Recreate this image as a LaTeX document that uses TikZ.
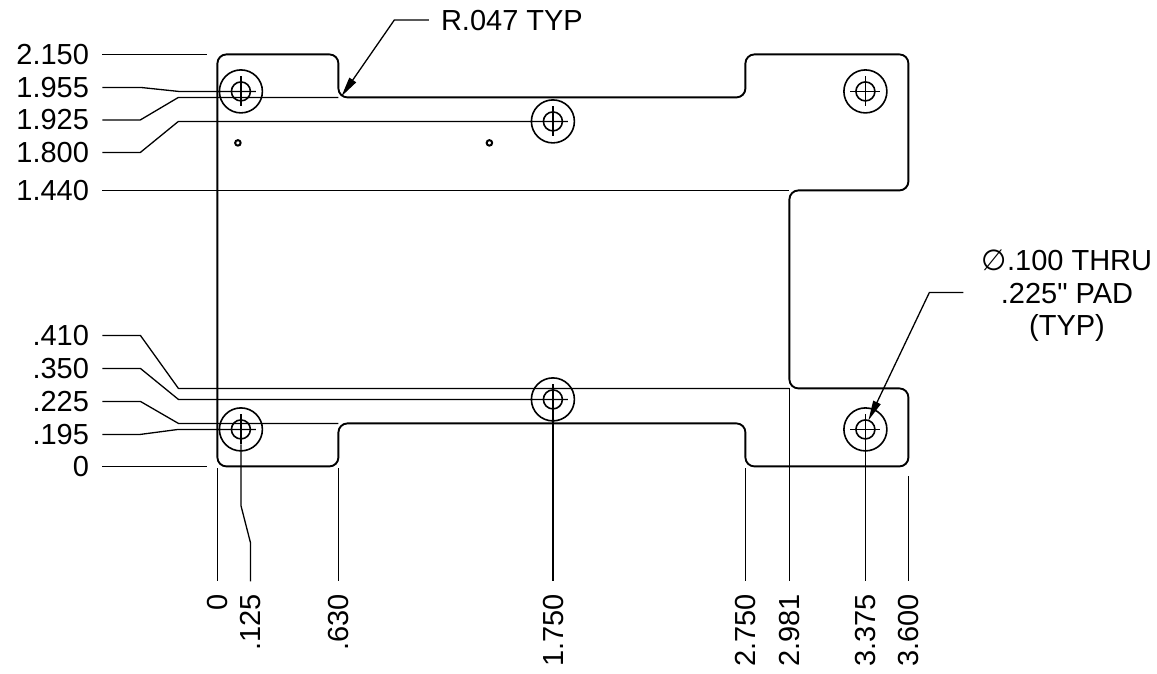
\documentclass[tikz,border=0pt]{standalone}
\usepackage{fontspec}
\newfontfamily\lblfont{Liberation Sans}
\newfontfamily\phifont{DejaVu Sans}
\usetikzlibrary{arrows.meta}
\tikzset{
  outline/.style={line width=1.9pt,line join=round},
  dimline/.style={line width=1.3pt,line join=round},
  holering/.style={line width=1.6pt},
  lbl/.style={font=\lblfont\fontsize{29}{33}\selectfont,inner sep=0pt,outer sep=0pt},
  leftlbl/.style={lbl,anchor=base east},
  botlbl/.style={lbl,anchor=base east,rotate=90},
  smallhole/.style={circle,draw,line width=2pt,minimum size=5.5pt,inner sep=0pt},
  leader/.style={line width=1.3pt,-{Triangle[length=20pt,width=8pt]}}
}
\newcommand{\padhole}[3]{%
  \node[circle,draw,holering,minimum size=43pt,inner sep=0pt] (#1) at (#2,#3) {};
  \node[circle,draw,holering,minimum size=19pt,inner sep=0pt] (#1i) at (#2,#3) {};
  \coordinate (#1w) at (#2-15,#3);
  \coordinate (#1e) at (#2+15,#3);
  \coordinate (#1n) at (#2,#3-15);
  \coordinate (#1s) at (#2,#3+15);
  \draw[dimline] (#1w) -- (#1e);
  \draw[dimline] (#1n) -- (#1s);
}
\begin{document}
\begin{tikzpicture}[x=1pt,y=-1pt]
\useasboundingbox (0,0) rectangle (1157,673);
\begin{scope}[shift={(0.4,0.4)}]
% outline
\draw[outline,rounded corners=9pt] (217,54) -- (338,54) -- (338,97) -- (745,97) -- (745,54) -- (908,54) -- (908,190) -- (789,190) -- (789,388) -- (908,388) -- (908,466) -- (745,466) -- (745,423) -- (338,423) -- (338,466) -- (217,466) -- cycle;
% holes
\padhole{ha}{240.5}{91}
\padhole{hb}{552.5}{121}
\padhole{hc}{865}{91}
\padhole{hd}{240.5}{429}
\padhole{he}{552.5}{399}
\padhole{hf}{865}{429}
\node[smallhole] (sa) at (237.5,142.5) {};
\node[smallhole] (sb) at (489,142.5) {};
% left extension lines
\coordinate (a1) at (102,54); \coordinate (a2) at (207,54);
\draw[dimline] (a1) -- (a2);
\coordinate (b1) at (102,87); \coordinate (b2) at (140,87); \coordinate (b3) at (178,91);
\draw[dimline] (b1) -- (b2) -- (b3) -- (hae);
\coordinate (c1) at (102,119.5); \coordinate (c2) at (140,119.5); \coordinate (c3) at (178,97); \coordinate (c4) at (338,97);
\draw[dimline] (c1) -- (c2) -- (c3) -- (c4);
\coordinate (d1) at (102,152); \coordinate (d2) at (140,152); \coordinate (d3) at (178,121);
\draw[dimline] (d1) -- (d2) -- (d3) -- (hbe);
\coordinate (e1) at (102,190); \coordinate (e2) at (789,190);
\draw[dimline] (e1) -- (e2);
\coordinate (f1) at (102,335); \coordinate (f2) at (140,335); \coordinate (f3) at (178,388); \coordinate (f4) at (789,388);
\draw[dimline] (f1) -- (f2) -- (f3) -- (f4);
\coordinate (g1) at (102,368); \coordinate (g2) at (140,368); \coordinate (g3) at (178,399);
\draw[dimline] (g1) -- (g2) -- (g3) -- (hee);
\coordinate (h1) at (102,401); \coordinate (h2) at (140,401); \coordinate (h3) at (178,423); \coordinate (h4) at (338,423);
\draw[dimline] (h1) -- (h2) -- (h3) -- (h4);
\coordinate (i1) at (102,434); \coordinate (i2) at (140,434); \coordinate (i3) at (178,429);
\draw[dimline] (i1) -- (i2) -- (i3) -- (hde);
\coordinate (j1) at (102,466); \coordinate (j2) at (207,466);
\draw[dimline] (j1) -- (j2);
% bottom extension lines
\coordinate (m0a) at (217,468); \coordinate (m0b) at (217,581);
\draw[dimline] (m0a) -- (m0b);
\coordinate (m1a) at (240.5,505); \coordinate (m1b) at (250,542); \coordinate (m1c) at (250,581);
\draw[dimline] (hds) -- (m1a) -- (m1b) -- (m1c);
\coordinate (m2a) at (338,468); \coordinate (m2b) at (338,581);
\draw[dimline] (m2a) -- (m2b);
\coordinate (m3b) at (552.5,581);
\draw[dimline] (hes) -- (m3b);
\coordinate (m4a) at (745,468); \coordinate (m4b) at (745,581);
\draw[dimline] (m4a) -- (m4b);
\coordinate (m5a) at (789,388); \coordinate (m5b) at (789,581);
\draw[dimline] (m5a) -- (m5b);
\coordinate (m6b) at (865,581);
\draw[dimline] (hfs) -- (m6b);
\coordinate (m7a) at (908,476); \coordinate (m7b) at (908,581);
\draw[dimline] (m7a) -- (m7b);
% callouts
\coordinate (r1) at (428.5,19.5); \coordinate (r2) at (394,19.5); \coordinate (r3) at (341,96);
\draw[leader] (r1) -- (r2) -- (r3);
\coordinate (q1) at (963,292); \coordinate (q2) at (929,292); \coordinate (q3) at (868,420);
\draw[leader] (q1) -- (q2) -- (q3);
\end{scope}
% left labels
\node[leftlbl] (l2150) at (89,64.3) {2.150};
\node[leftlbl] (l1955) at (89,97.3) {1.955};
\node[leftlbl] (l1925) at (89,129.8) {1.925};
\node[leftlbl] (l1800) at (89,162.6) {1.800};
\node[leftlbl] (l1440) at (89,200.3) {1.440};
\node[leftlbl] (l410) at (89,345.6) {.410};
\node[leftlbl] (l350) at (89,378.6) {.350};
\node[leftlbl] (l225) at (89,411) {.225};
\node[leftlbl] (l195) at (89,444.3) {.195};
\node[leftlbl] (l0) at (89,476.3) {0};
% bottom labels
\node[botlbl] (b0) at (227.5,594) {0};
\node[botlbl] (b125) at (260.5,594) {.125};
\node[botlbl] (b630) at (348.5,594) {.630};
\node[botlbl] (b1750) at (563.5,594) {1.750};
\node[botlbl] (b2750) at (755.5,594) {2.750};
\node[botlbl] (b2981) at (799.5,594) {2.981};
\node[botlbl] (b3375) at (875.5,594) {3.375};
\node[botlbl] (b3600) at (918.5,594) {3.600};
\node[lbl,anchor=base west] (rtext) at (441,30) {R.047 TYP};
\node[lbl,anchor=base] (p1) at (1067,270) {{\phifont ∅}.100 THRU};
\node[lbl,anchor=base] (p2) at (1067,303) {.225" PAD};
\node[lbl,anchor=base] (p3) at (1067,335) {(TYP)};
\end{tikzpicture}
\end{document}
